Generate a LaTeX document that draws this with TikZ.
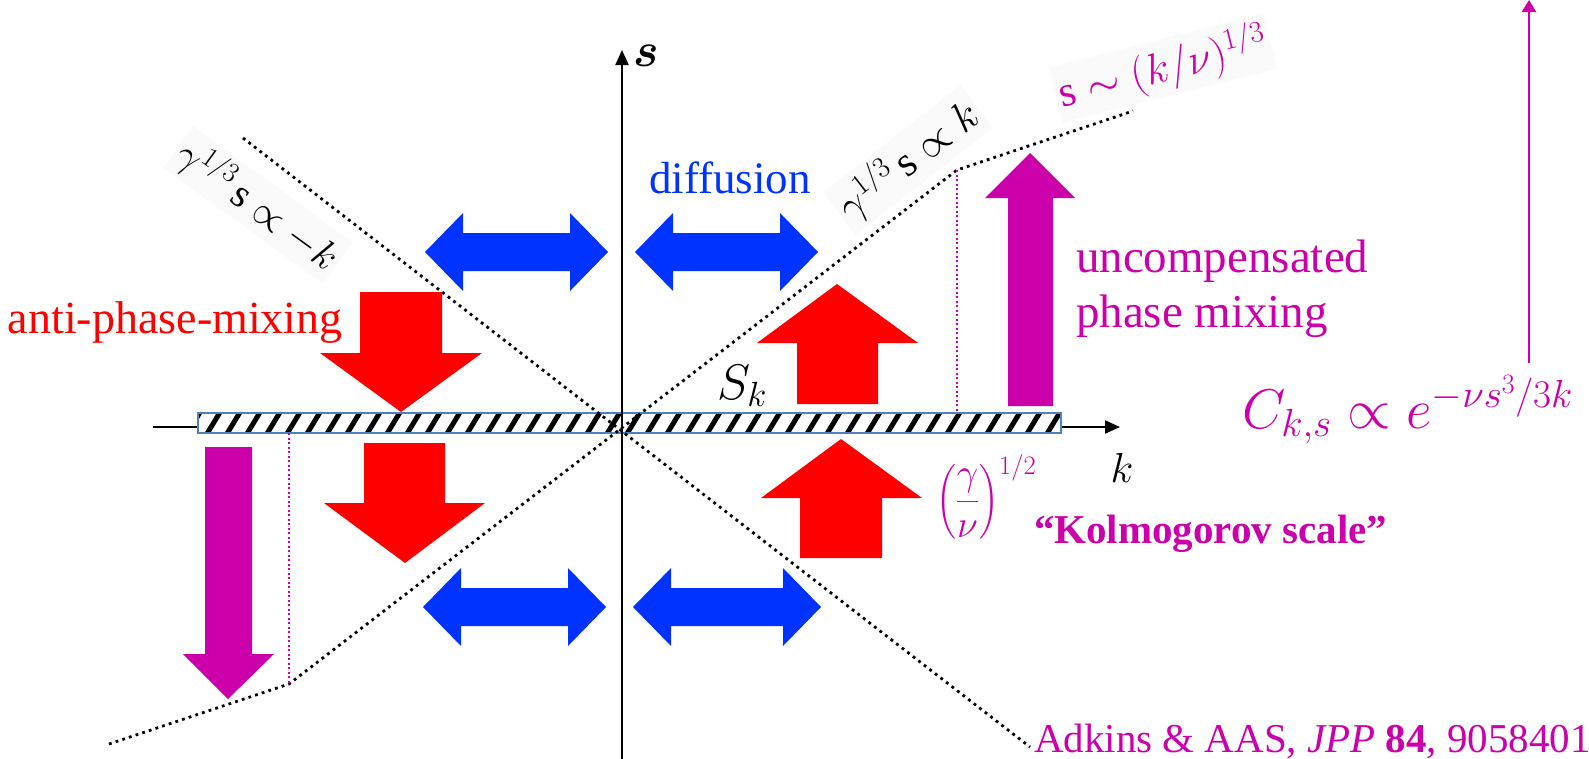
\RequirePackage{fix-cm}
\documentclass[tikz,border=0pt]{standalone}
\usepackage{amsmath}
\usepackage{fontspec}
\setmainfont{Liberation Serif}
\usetikzlibrary{arrows.meta}
\definecolor{mblue}{RGB}{0,51,255}
\definecolor{mred}{RGB}{255,0,0}
\definecolor{mmag}{RGB}{204,0,170}
\definecolor{barblue}{RGB}{79,129,189}
\newcommand\fsz[1]{\fontsize{#1}{#1}\selectfont}
\newcommand\dblarrow[3]{%
  \fill[blueblock] (#2,#1) -- (#2+38,#1-39) -- (#2+38,#1-19) -- (#3-38,#1-19) -- (#3-38,#1-39) -- (#3,#1)
   -- (#3-38,#1+39) -- (#3-38,#1+19) -- (#2+38,#1+19) -- (#2+38,#1+39) -- cycle;}
\tikzset{
  axisline/.style={line width=2.2pt, -{Triangle[length=15pt,width=13pt]}},
  dotline/.style={line width=2.8pt, dash pattern=on 2.8pt off 4.2pt},
  magdot/.style={mmag, line width=2pt, dash pattern=on 2pt off 2.5pt},
  redblock/.style={fill=mred},
  blueblock/.style={fill=mblue},
  magblock/.style={fill=mmag},
  lbl/.style={inner sep=0pt, outer sep=0pt},
  rotlbl/.style={fill=black!2, inner sep=4pt},
}
\begin{document}
\begin{tikzpicture}[x=1pt,y=-1pt]
\useasboundingbox (0,0) rectangle (1589,758);
\clip (0,0) rectangle (1589,758);
% coordinates
\coordinate (O) at (622,427);
\coordinate (kL) at (153,427);
\coordinate (kR) at (1120,427);
\coordinate (sB) at (622,760);
\coordinate (sT) at (622,50);
% horizontal axis
\draw[axisline] (kL) -- (kR);
% hatched bar
\begin{scope}
  \clip (198,413) rectangle (1061,433);
  \fill[white] (198,413) rectangle (1061,433);
  \foreach \x in {185,205,...,1065} \draw[line width=5pt] (\x,437) -- (\x+17,409);
\end{scope}
\draw[barblue, line width=1.5pt] (198,413) rectangle (1061,433);
% vertical axis
\draw[axisline] (sB) -- (sT);
% dotted lines
\coordinate (a1) at (243,138);
\coordinate (a2) at (1030,747);
\coordinate (b1) at (109,744);
\coordinate (b2) at (289,684);
\coordinate (b3) at (957,170);
\coordinate (b4) at (1133,111);
\draw[dotline] (a1) -- (a2);
\draw[dotline] (b1) -- (b2) -- (b3) -- (b4);
\coordinate (m1) at (957,413);
\coordinate (m2) at (289,433);
\draw[magdot] (b3) -- (m1);
\draw[magdot] (m2) -- (b2);
% blue double arrows
\dblarrow{252}{425}{608}
\dblarrow{252}{635}{818}
\dblarrow{607}{423}{606}
\dblarrow{607}{633}{821}
% red block arrows
\fill[redblock] (360,292) -- (442,292) -- (442,353) -- (482,353) -- (401,412) -- (320,353) -- (360,353) -- cycle;
\fill[redblock] (364,443) -- (445,443) -- (445,503) -- (485,503) -- (405,563) -- (324,503) -- (364,503) -- cycle;
\fill[redblock] (797,404) -- (878,404) -- (878,343) -- (918,343) -- (837,284) -- (757,343) -- (797,343) -- cycle;
\fill[redblock] (800,558) -- (882,558) -- (882,498) -- (922,498) -- (841,439) -- (761,498) -- (800,498) -- cycle;
% magenta block arrows
\fill[magblock] (1008,406) -- (1053,406) -- (1053,198) -- (1075,198) -- (1030,153) -- (985,198) -- (1008,198) -- cycle;
\fill[magblock] (205,447) -- (252,447) -- (252,654) -- (274,654) -- (228,699) -- (183,654) -- (205,654) -- cycle;
% thin magenta arrow
\coordinate (t1) at (1529,363);
\coordinate (t2) at (1529,0);
\draw[mmag, line width=2.5pt, -{Triangle[length=12pt,width=14pt]}] (t1) -- (t2);
% labels
\node[lbl, anchor=base west] (slab) at (633,66) {\fsz{48}$\boldsymbol{s}$};
\node[lbl, anchor=base] (klab) at (1122,482) {\fsz{42}$k$};
\node[lbl] (sk) at (742,386) {\fsz{50}$S_k$};
\node[rotlbl, rotate=-36] (lrot) at (258,205) {\fsz{40}$\gamma^{1/3}\,\mathrm{s}\propto -k$};
\node[rotlbl, rotate=38] (rrot) at (908,160) {\fsz{42}$\gamma^{1/3}\,\mathrm{s}\propto k$};
\node[rotlbl, rotate=14, text=mmag] (mrot) at (1163,68) {\fsz{43}$\mathrm{s}\sim(k/\nu)^{1/3}$};
\node[lbl, anchor=base, text=mblue] (diff) at (730,193) {\fsz{45}diffusion};
\node[lbl, anchor=base west, text=mred] (anti) at (8,333) {\fsz{46}anti-phase-mixing};
\node[lbl, anchor=base west, text=mmag] (unc1) at (1076,272) {\fsz{47}uncompensated};
\node[lbl, anchor=base west, text=mmag] (unc2) at (1076,327) {\fsz{47}phase mixing};
\node[lbl, anchor=base west, text=mmag] (kol) at (1034,543) {\fsz{41}\textbf{“Kolmogorov scale”}};
\node[lbl, anchor=west, text=mmag] (gn) at (936,497) {\fsz{38}$\displaystyle\left(\frac{\gamma}{\nu}\right)^{1/2}$};
\node[lbl, anchor=base east, text=mmag] (cks) at (1573,428) {\fsz{56}$C_{k,s}\propto e^{-\nu s^3/3k}$};
\node[lbl, anchor=base west, text=mmag] (ref) at (1034,752) {\fsz{41}Adkins \& AAS, \textit{JPP} \textbf{84}, 905840107};
\end{tikzpicture}
\end{document}
